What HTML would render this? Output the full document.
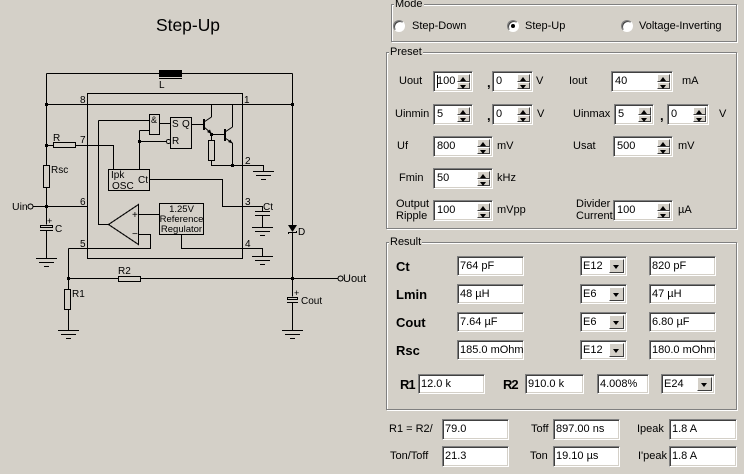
<!DOCTYPE html>
<html><head><meta charset="utf-8"><style>
*{margin:0;padding:0;box-sizing:border-box}
body{width:744px;height:474px;background:#d4d0c8;position:relative;overflow:hidden;font-family:"Liberation Sans",Arial,sans-serif;font-size:11px;color:#000}
.t{position:absolute;white-space:nowrap;line-height:13px}
.b{font-weight:bold;font-size:13px;line-height:15px}
.cm{position:absolute;font-weight:bold;font-size:13px;line-height:13px}
.g{position:absolute;border:1px solid #808080;box-shadow:inset 1px 1px 0 #fff,1px 1px 0 #fff}
.g>span{position:absolute;top:-8px;left:2px;background:#d4d0c8;padding:0 1px;line-height:14px}
.e{position:absolute;background:#fff;border-top:1px solid #808080;border-left:1px solid #808080;border-right:1px solid #fff;border-bottom:1px solid #fff;box-shadow:inset 1px 1px 0 #404040,inset -1px -1px 0 #d4d0c8;padding-left:3px;white-space:nowrap;height:21px;line-height:19px}
.e.h{height:20px;line-height:18px;padding-left:2px}
.s{position:absolute;right:2px;top:2px;bottom:2px;width:13px}
.s i{position:absolute;left:0;right:0;height:50%;background:#d4d0c8;border:1px solid;border-color:#fff #404040 #404040 #fff}
.s i:first-child{top:0}.s i:last-child{bottom:0}
.s i:before{content:"";position:absolute;left:2px;border-left:3.5px solid transparent;border-right:3.5px solid transparent}
.s i:first-child:before{top:2px;border-bottom:4px solid #000}
.s i:last-child:before{top:2px;border-top:4px solid #000}
.dd{position:absolute;right:2px;top:2px;bottom:2px;width:15px;background:#d4d0c8;border:1px solid;border-color:#fff #404040 #404040 #fff}
.dd:before{content:"";position:absolute;left:3px;top:5px;border-left:3.5px solid transparent;border-right:3.5px solid transparent;border-top:4px solid #000}
.r{position:absolute;width:12px;height:12px;border-radius:50%;background:#fff;border:1px solid;border-color:#808080 #fff #fff #808080;box-shadow:inset 1px 1px 0 #404040}
.r.on:after{content:"";position:absolute;left:3px;top:3px;width:4px;height:4px;border-radius:50%;background:#000}
.cur{position:absolute;left:3px;top:3px;width:1px;height:13px;background:#000}
</style></head><body>

<svg width="376" height="474" style="position:absolute;left:0;top:0" font-family="Liberation Sans, Arial, sans-serif">
<text x="156" y="31" font-size="17.5" textLength="64" lengthAdjust="spacingAndGlyphs">Step-Up</text>
<g stroke="#000" stroke-width="1" fill="none" shape-rendering="crispEdges">
<path d="M46.5 73.5H292.5 M46.5 73.5V224.5 M46.5 230.5V258.5 M46.5 104.5H292.5 M292.5 73.5V225 M292.5 232V296.5 M292.5 303V330.5
M46.5 145.5H113.5V169.5 M139.5 130.5V169.5 M139.5 130.5H149.5 M139.5 141.5H166
M98.5 120.5H149.5 M98.5 120.5V224.5H108.5 M159.5 123.5H170.5 M191.5 124.5H203
M211.5 117V104.5 M232.5 127V104.5 M211.5 134.5H224 M232.5 143V165.5
M211.5 134.5V140.5 M211.5 160.5V165.5H263.5V171.5
M149.5 179.5H222.5V206.5H262.5V211.5 M255 211.5H270 M255 215.5H270 M262.5 215.5V227.5
M181.5 234.5V248.5H262.5V256.5
M68.5 248.5H150.5V234.5H138.5 M68.5 248.5V289.5 M68.5 309.5V330.5
M68.5 278.5H118.5 M140.5 278.5H338 M32.5 206.5H87.5 M138.5 214.5H159.5
M40 230.5H53 M287 302.5H298 M288 232.5H297 M288.5 232.5V234 M296.5 232.5V231
M253 171.5H274 M256 175.5H271 M261 179.5H266
M252 227.5H273 M255 231.5H270 M260 235.5H265
M252 256.5H273 M255 260.5H270 M260 264.5H265
M36 258.5H57 M39 262.5H54 M44 266.5H49
M58 330.5H79 M61 334.5H76 M66 338.5H71
M282 330.5H303 M285 334.5H300 M290 338.5H295
M159 78.5H182"/>
<rect x="87.5" y="93.5" width="155" height="165"/>
<g fill="#d4d0c8">
<rect x="53.5" y="142.5" width="22" height="5"/>
<rect x="43.5" y="165.5" width="6" height="22"/>
<rect x="108.5" y="169.5" width="41" height="21"/>
<rect x="149.5" y="114.5" width="10" height="20"/>
<rect x="170.5" y="117.5" width="21" height="31"/>
<rect x="208.5" y="140.5" width="6" height="20"/>
<rect x="159.5" y="203.5" width="44" height="31"/>
<rect x="64.5" y="289.5" width="6" height="20"/>
<rect x="118.5" y="276.5" width="22" height="5"/>
<rect x="40.5" y="225.5" width="12" height="2"/>
<rect x="287.5" y="297.5" width="10" height="2"/>
<polygon points="108.5,224.5 138.5,204.5 138.5,244.5"/>
<circle cx="30.5" cy="206.5" r="2.5"/>
<circle cx="340.5" cy="278.5" r="2.5"/>
<circle cx="168.5" cy="141.5" r="2"/>
</g>
</g>
<g stroke="#000" stroke-width="1" fill="none">
<path d="M204 122L211.5 117 M204 127L211.5 133.5 M225 132L232.5 127 M225 138L232.5 143"/>
</g>
<g fill="#000">
<rect x="159" y="70" width="23" height="7"/>
<rect x="203" y="119" width="2" height="11"/>
<rect x="224" y="129" width="2" height="12"/>
<polygon points="288,225 297,225 292.5,232"/>
<polygon points="207,132 211.5,134 210,129.5"/>
<polygon points="228,142 232.5,143.5 230.5,139.5"/>
<rect x="45" y="103" width="3" height="3"/><rect x="291" y="103" width="3" height="3"/>
<rect x="45" y="144" width="3" height="3"/><rect x="138" y="140" width="3" height="3"/>
<rect x="210" y="133" width="3" height="3"/><rect x="231" y="164" width="3" height="3"/>
<rect x="45" y="205" width="3" height="3"/><rect x="67" y="277" width="3" height="3"/>
<rect x="291" y="277" width="3" height="3"/>
</g>
<g font-size="10">
<text x="80" y="103">8</text><text x="80" y="143">7</text><text x="80" y="205">6</text><text x="80" y="247">5</text>
<text x="244" y="103">1</text><text x="245" y="164">2</text><text x="245" y="205">3</text><text x="245" y="247">4</text>
<text x="53" y="141">R</text><text x="51" y="173">Rsc</text><text x="12" y="210" font-size="10.5">Uin</text>
<text x="55" y="232">C</text><text x="47" y="224" font-size="9">+</text>
<text x="159" y="88">L</text><text x="118" y="274">R2</text><text x="72" y="297">R1</text>
<text x="298" y="235">D</text><text x="343" y="282" font-size="11">Uout</text>
<text x="301" y="304">Cout</text><text x="294" y="296" font-size="9">+</text>
<text x="111" y="178">Ipk</text><text x="112" y="189">OSC</text><text x="138" y="183">Ct</text>
<text x="151" y="123" font-size="9">&amp;</text>
<text x="172" y="127">S</text><text x="182" y="127">Q</text><text x="172" y="144">R</text>
<text x="132" y="218">+</text><text x="132" y="237">−</text>
<text x="263" y="210">Ct</text>
<g font-size="9.5" text-anchor="middle"><text x="181.5" y="212">1.25V</text><text x="181.5" y="222">Reference</text><text x="181.5" y="232">Regulator</text></g>
</g>
</svg>

<!-- Mode -->
<div class="g" style="left:391px;top:4px;width:346px;height:38px"><span>Mode</span></div>
<div class="r" style="left:393px;top:20px"></div><div class="t" style="left:412px;top:20px">Step-Down</div>
<div class="r on" style="left:507px;top:20px"></div><div class="t" style="left:525px;top:20px">Step-Up</div>
<div class="r" style="left:621px;top:20px"></div><div class="t" style="left:639px;top:20px">Voltage-Inverting</div>

<!-- Preset -->
<div class="g" style="left:386px;top:52px;width:351px;height:177px"><span>Preset</span></div>
<div class="t" style="left:399px;top:75px">Uout</div>
<div class="e" style="left:433px;top:71px;width:40px"><b class="cur"></b>100<div class="s"><i></i><i></i></div></div>
<div class="cm" style="left:487px;top:76px">,</div>
<div class="e" style="left:492px;top:71px;width:41px">0<div class="s"><i></i><i></i></div></div>
<div class="t" style="left:536px;top:75px">V</div>
<div class="t" style="left:569px;top:75px">Iout</div>
<div class="e" style="left:611px;top:71px;width:62px">40<div class="s"><i></i><i></i></div></div>
<div class="t" style="left:682px;top:75px">mA</div>

<div class="t" style="left:395px;top:108px">Uinmin</div>
<div class="e" style="left:433px;top:104px;width:40px">5<div class="s"><i></i><i></i></div></div>
<div class="cm" style="left:487px;top:109px">,</div>
<div class="e" style="left:492px;top:104px;width:41px">0<div class="s"><i></i><i></i></div></div>
<div class="t" style="left:537px;top:108px">V</div>
<div class="t" style="left:573px;top:108px">Uinmax</div>
<div class="e" style="left:614px;top:104px;width:40px">5<div class="s"><i></i><i></i></div></div>
<div class="cm" style="left:660px;top:109px">,</div>
<div class="e" style="left:667px;top:104px;width:42px">0<div class="s"><i></i><i></i></div></div>
<div class="t" style="left:719px;top:108px">V</div>

<div class="t" style="left:397px;top:140px">Uf</div>
<div class="e" style="left:433px;top:136px;width:60px">800<div class="s"><i></i><i></i></div></div>
<div class="t" style="left:497px;top:140px">mV</div>
<div class="t" style="left:573px;top:140px">Usat</div>
<div class="e" style="left:613px;top:136px;width:60px">500<div class="s"><i></i><i></i></div></div>
<div class="t" style="left:678px;top:140px">mV</div>

<div class="t" style="left:399px;top:172px">Fmin</div>
<div class="e" style="left:433px;top:168px;width:60px">50<div class="s"><i></i><i></i></div></div>
<div class="t" style="left:497px;top:172px">kHz</div>

<div class="t" style="left:396px;top:198px;line-height:12px">Output<br>Ripple</div>
<div class="e" style="left:433px;top:200px;width:60px">100<div class="s"><i></i><i></i></div></div>
<div class="t" style="left:497px;top:204px">mVpp</div>
<div class="t" style="left:576px;top:198px;line-height:12px">Divider<br>Current</div>
<div class="e" style="left:613px;top:200px;width:60px">100<div class="s"><i></i><i></i></div></div>
<div class="t" style="left:678px;top:204px">µA</div>

<!-- Result -->
<div class="g" style="left:386px;top:242px;width:351px;height:168px"><span>Result</span></div>
<div class="t b" style="left:396px;top:259px">Ct</div>
<div class="e h" style="left:457px;top:256px;width:67px">764 pF</div>
<div class="e h" style="left:580px;top:256px;width:47px">E12<div class="dd"></div></div>
<div class="e h" style="left:649px;top:256px;width:67px">820 pF</div>

<div class="t b" style="left:396px;top:287px">Lmin</div>
<div class="e h" style="left:457px;top:284px;width:67px">48 µH</div>
<div class="e h" style="left:580px;top:284px;width:47px">E6<div class="dd"></div></div>
<div class="e h" style="left:649px;top:284px;width:67px">47 µH</div>

<div class="t b" style="left:396px;top:315px">Cout</div>
<div class="e h" style="left:457px;top:312px;width:67px">7.64 µF</div>
<div class="e h" style="left:580px;top:312px;width:47px">E6<div class="dd"></div></div>
<div class="e h" style="left:649px;top:312px;width:67px">6.80 µF</div>

<div class="t b" style="left:396px;top:343px">Rsc</div>
<div class="e h" style="left:457px;top:340px;width:67px">185.0 mOhm</div>
<div class="e h" style="left:580px;top:340px;width:47px">E12<div class="dd"></div></div>
<div class="e h" style="left:649px;top:340px;width:67px">180.0 mOhm</div>

<div class="t b" style="left:400px;top:377px;letter-spacing:-1px">R1</div>
<div class="e h" style="left:418px;top:374px;width:67px">12.0 k</div>
<div class="t b" style="left:503px;top:377px;letter-spacing:-1px">R2</div>
<div class="e h" style="left:525px;top:374px;width:59px">910.0 k</div>
<div class="e h" style="left:597px;top:374px;width:52px">4.008%</div>
<div class="e h" style="left:661px;top:374px;width:54px">E24<div class="dd"></div></div>

<!-- bottom -->
<div class="t" style="left:389px;top:423px">R1 = R2/</div>
<div class="e" style="left:442px;top:419px;width:67px;padding-left:2px">79.0</div>
<div class="t" style="left:531px;top:423px">Toff</div>
<div class="e" style="left:553px;top:419px;width:67px;padding-left:2px">897.00 ns</div>
<div class="t" style="left:637px;top:423px">Ipeak</div>
<div class="e" style="left:669px;top:419px;width:68px;padding-left:2px">1.8 A</div>

<div class="t" style="left:390px;top:450px">Ton/Toff</div>
<div class="e" style="left:442px;top:446px;width:67px;padding-left:2px">21.3</div>
<div class="t" style="left:530px;top:450px">Ton</div>
<div class="e" style="left:553px;top:446px;width:67px;padding-left:2px">19.10 µs</div>
<div class="t" style="left:638px;top:450px">I'peak</div>
<div class="e" style="left:669px;top:446px;width:68px;padding-left:2px">1.8 A</div>

</body></html>
